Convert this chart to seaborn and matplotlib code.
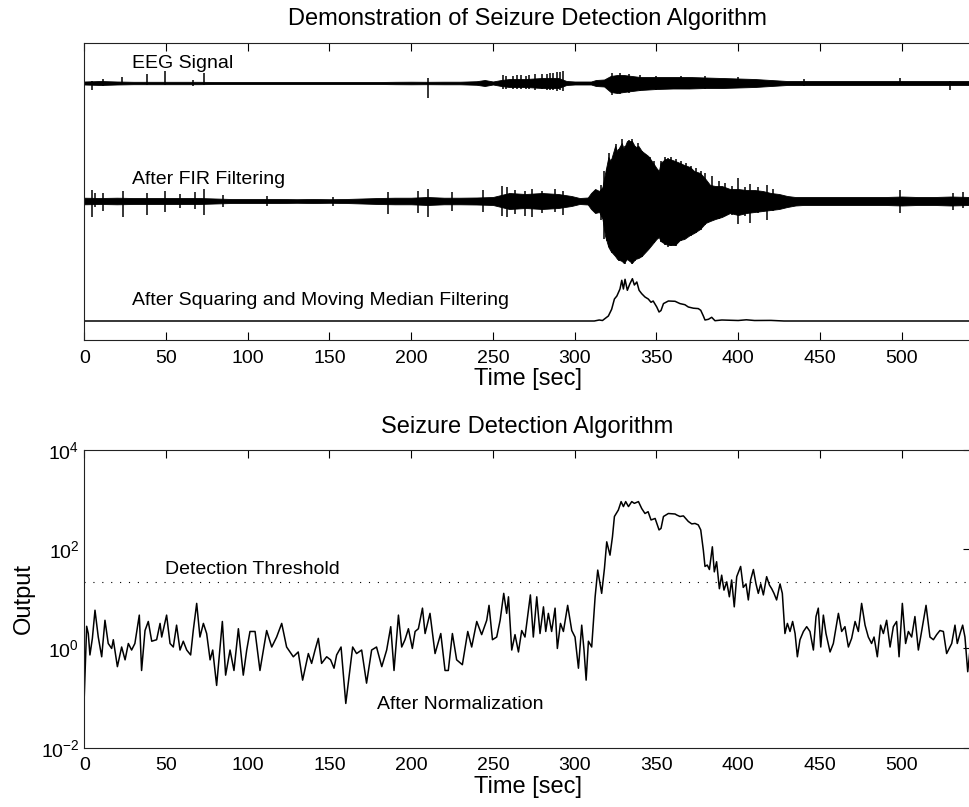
import numpy as np
import matplotlib
matplotlib.use("Agg")
import matplotlib.pyplot as plt
import matplotlib.ticker as mticker
import seaborn as sns

# --- data (time in sec) ---

# raw EEG: envelope half-heights above / below the trace (arbitrary units)
eeg_t = [0, 10, 20, 30, 40, 50, 60, 70, 80, 100, 120, 140, 160, 180, 190, 200, 210, 220, 230, 240,
         245, 250, 255, 260, 270, 280, 290, 295, 300, 310, 313, 318, 322, 326, 330, 335, 340, 350,
         360, 370, 380, 390, 400, 410, 420, 430, 440, 460, 480, 500, 520, 542]
eeg_up = [1.5, 2, 1.5, 1.2, 1.2, 1.2, 1.2, 1.2, 1.0, 1.0, 1.0, 1.0, 1.0, 1.0, 1.2, 1.3, 1.2, 1.3, 1.3, 1.8,
          3, 1.5, 3, 4, 4, 5, 5, 2, 1.5, 1.5, 3, 3.5, 7, 8, 8, 7, 6, 6,
          6, 6, 5.5, 5, 4.5, 4, 3, 2, 2, 2, 2, 2, 2, 2]
eeg_dn = [1.5, 2, 1.5, 1.2, 1.2, 1.2, 1.2, 1.2, 1.0, 1.0, 1.0, 1.0, 1.0, 1.0, 1.2, 1.3, 1.2, 1.3, 1.3, 1.8,
          3, 1.5, 3, 4, 4, 5, 5, 2, 1.5, 1.5, 3, 3.5, 9, 10, 9, 8, 7, 6,
          5.5, 5.5, 5, 5, 4.5, 4, 3, 2, 2, 2, 2, 2, 2, 2]
eeg_spk_t = [4.6, 11.3, 23, 38.2, 49.4, 66.7, 73.3, 210.5, 256, 258, 262, 265, 267, 270, 272, 276,
             280, 283, 285, 287, 289, 291, 293, 323, 328, 333, 340, 350, 365, 380, 400, 440, 499, 529.6]
eeg_spk_up = [2, 3.5, 6, 9, 12, 3, 10, 5, 8, 7, 7, 8, 8, 7, 8, 9,
              9, 9, 10, 10, 11, 11, 12, 10, 10, 9, 8, 7, 7, 7, 6, 3.5, 5, 2]
eeg_spk_dn = [7, 3.5, 1.5, 2, 2, 3, 2, 15, 6, 6, 6, 6, 6, 6, 6, 7,
              6, 7, 7, 7, 8, 7, 8, 12, 11, 10, 8, 7, 6, 6, 5, 3.5, 2, 7]

# after FIR filtering: envelope half-heights
fir_t = [0, 10, 20, 30, 40, 50, 60, 70, 80, 90, 100, 110, 120, 130, 140, 150, 160, 170, 180, 190,
         200, 210, 220, 230, 240, 250, 255, 260, 270, 280, 290, 298, 303, 308, 310, 312.5, 315, 317,
         318.6, 320.6, 322, 324.7, 326, 328.8, 330, 332, 335, 337, 339, 341, 345, 348, 350, 351.5,
         352.5, 355.3, 358, 361.4, 364.4, 367, 370.5, 373, 376.7, 380, 382.8, 386, 390, 395, 400,
         405, 410, 415, 420, 425, 430, 435, 440, 450, 460, 470, 480, 490, 500, 510, 520, 530, 542]
fir_up = [3.3, 3, 3.3, 3, 3, 3, 3, 3, 2.5, 2, 2, 2, 2, 1.8, 2, 1.8, 2, 2.5, 3, 3.3,
          3.3, 4, 3.3, 3.3, 3.5, 4, 6, 8, 7, 8, 7, 5, 3, 3.5, 8, 12, 10, 14,
          28, 44, 40, 55, 50, 58, 52, 60, 60, 54, 55, 50, 45, 38, 33, 30,
          38, 42, 42, 40, 38, 36, 34, 30, 28, 22, 16, 15, 15, 12, 12,
          11, 11, 10, 8, 7, 5, 4, 4, 4, 4, 4, 4, 4, 4.5, 4, 4, 4.5, 4]
fir_dn = [3.3, 3, 3.3, 3, 3, 3, 3, 3, 2.5, 2, 2, 2, 2, 1.8, 2, 1.8, 2, 2.5, 3, 3.3,
          3.3, 4, 3.3, 3.3, 3.5, 4, 6, 8, 7, 8, 7, 5, 3, 3.5, 8, 12, 11, 18,
          35, 46, 50, 55, 58, 60, 62, 58, 62, 58, 57, 55, 48, 42, 38, 36,
          40, 43, 44, 44, 39, 38, 34, 32, 28, 22, 20, 18, 16, 12, 14,
          12, 11, 10, 9, 8, 6, 4.5, 4, 4, 4, 4, 4, 4, 4.5, 4, 4, 4.5, 4]
fir_spk_t = [4.6, 6.6, 11.7, 23.5, 38.2, 49.4, 58.6, 67.8, 73.3, 85, 111.6, 152.4, 186, 204.4,
             210.5, 224.8, 244.2, 255.4, 258.4, 263.5, 269.6, 273.7, 279.8, 288, 293.1,
             316, 318, 319.5, 321, 323, 325, 327, 329, 331, 333, 335, 337, 339, 341, 343,
             346, 348.5, 353, 355, 357, 359, 362, 365, 368, 371, 374, 377, 380, 384, 388,
             392, 396, 400.1, 404, 407.2, 412, 417.4, 421, 499, 531.6, 537.7]
fir_spk_up = [10.7, 8, 8, 10, 8, 10, 7, 9, 12, 6, 5, 4, 9, 10,
              12, 9, 11, 15, 14, 11, 10, 12, 10, 12, 10,
              16, 30, 32, 48, 42, 57, 52, 62, 55, 61, 62, 55, 58, 50, 47,
              44, 40, 40, 44, 43, 44, 42, 40, 38, 35, 33, 30, 28, 25, 20,
              18, 15, 23, 14, 17, 14, 16, 12, 11, 8, 9]
fir_spk_dn = [16, 6, 10, 16, 14, 11, 7, 8, 14, 6, 5, 5, 13, 12,
              16, 10, 11, 15, 16, 13, 15, 16, 12, 11, 14,
              19, 38, 40, 46, 52, 55, 60, 58, 63, 57, 63, 60, 55, 56, 50,
              45, 42, 41, 44, 46, 45, 45, 40, 36, 35, 32, 29, 24, 18, 18,
              15, 14, 23, 15, 22, 12, 19, 10, 12, 9, 7]

# after squaring and moving median filtering (height above its baseline)
med_t = [0, 312, 315, 317, 320.6, 322.6, 324.3, 325.8, 327.7, 328.8, 329.8, 330.8, 332.2, 333.7,
         335.3, 336.5, 338, 339.4, 341, 343, 345, 346.7, 348, 350.2, 351.6, 352.8, 354.3, 357.3,
         361.4, 364.4, 367.4, 369.5, 372.6, 375.6, 377.1, 378.7, 379.7, 381.8, 383.8, 385.8, 390,
         400, 405, 410, 420, 428, 542]
med_h = [0, 0, 1, 0.5, 5, 11.7, 22, 25, 32, 40.7, 32, 41.7, 30.7, 37,
         42.3, 36, 39, 30.7, 27.3, 24, 22, 18.7, 20, 14, 9, 10.5, 17.4, 20,
         19.7, 17.4, 16.3, 14, 12.8, 12.4, 10.7, 5, 1, 1.7, 3.7, 0.3, 1,
         0.5, 1.2, 0.5, 0.6, 0, 0]

# normalized detector output
out_t = [0, 1.5, 2.5, 3.5, 5.0, 6.6, 8.6, 10.7, 12.7, 14.7, 16.8, 17.8, 20.3, 22.9, 25.0, 27.0,
         29.0, 31.0, 33.7, 35.1, 37.2, 39.2, 41.3, 44.3, 46.4, 47.4, 50.4, 52.5, 54.5, 56.5, 58.6,
         60.6, 62.7, 65.1, 66.7, 68.8, 70.8, 72.9, 74.9, 77.0, 78.6, 81.0, 84.5, 86.5, 89.2, 91.6,
         94.3, 97.3, 99.4, 101.4, 104.5, 107.5, 111.6, 114.7, 117.7, 120.8, 123.8, 127.9, 130.9,
         133.6, 137.1, 139.1, 141.2, 143.2, 145.2, 148.3, 150.7, 152.8, 154.4, 157.1, 160.0, 161.5,
         164.2, 166.6, 169.7, 172.7, 175.8, 178.8,
         182.0, 185.0, 187.5, 189.5, 192.2, 194.2, 196.2, 198.3, 200.7, 202.4, 204.4, 206.9, 208.5,
         211.5, 214.6, 218.1, 220.7, 222.7, 225.2, 227.8, 231.3, 234.6, 237.0, 240.1, 243.1, 246.2,
         247.6, 249.7, 252.3, 254.4, 256.6, 258.4, 259.5, 261.5, 263.5, 265.6, 267.6, 269.6, 272.9,
         274.7, 276.8, 278.8, 280.9, 282.3, 283.9, 285.9, 288.0, 289.4, 291.3, 293.1, 295.7, 298.2,
         300.2, 302.3, 304.3, 305.7, 307.0, 308.4, 310.4, 312.5, 314.1, 316.5, 318.2, 319.6, 321.6,
         323.1, 324.3, 326.7, 328.4, 329.8, 331.2, 332.9, 334.9, 336.5, 339.0, 341.0, 343.0, 344.9,
         346.7, 349.2, 351.6, 352.8, 354.3, 357.3, 361.4,
         362.4, 364.4, 366.5, 369.5, 371.6, 373.6, 375.6, 377.1, 378.7, 379.7, 381.1, 382.4, 384.2,
         385.4, 386.8, 388.5, 389.9, 391.3, 393.0, 394.6, 396.0, 397.6, 399.1, 401.5, 403.1, 404.8,
         406.2, 407.6, 409.3, 410.9, 412.3, 413.8, 415.4, 417.4, 419.1, 420.5, 421.9, 423.5, 425.6,
         427.0, 428.6, 430.1, 431.7, 433.3, 434.8, 436.2, 437.8, 439.9, 441.9, 443.9, 446.0, 447.6,
         449.0, 450.5, 452.1, 453.7, 456.2, 458.2, 461.3, 463.3, 465.3, 467.4, 469.4, 471.5, 473.5,
         475.5, 477.6, 479.6, 481.6, 483.1, 485.1, 487.1, 488.8, 490.8, 492.9, 494.9, 496.9, 498.4,
         500.4, 502.4, 504.1, 506.1, 508.1, 510.2, 511.6, 514.9, 517.3, 519.4, 521.4, 523.4, 525.5,
         527.5, 530.6, 532.6, 534.0, 535.7, 537.3, 538.7, 540.4, 541.8]
out_v = [0.10, 2.8, 2.0, 0.74, 1.6, 5.9, 1.7, 0.68, 3.7, 1.26, 1.0, 1.5, 0.43, 1.07, 0.59, 1.26,
         0.93, 1.26, 4.7, 0.36, 2.3, 3.5, 1.4, 1.5, 3.2, 1.7, 4.7, 1.26, 1.07, 2.95, 0.93,
         1.4, 0.93, 0.74, 2.3, 8.1, 1.7, 3.2, 2.0, 0.59, 0.93, 0.18, 3.5, 0.29, 0.93, 0.36,
         2.5, 0.29, 0.93, 2.2, 2.2, 0.36, 2.3, 1.07, 1.7, 3.2, 1.07, 0.68, 0.85,
         0.23, 0.79, 0.50, 0.93, 1.6, 0.50, 0.68, 0.59, 0.40, 0.74, 1.07, 0.078, 0.20,
         1.07, 0.79, 0.93, 0.20, 0.93, 1.07,
         0.43, 0.93, 2.75, 0.36, 4.7, 1.07, 1.5, 2.5, 1.0, 2.2, 2.5, 6.5, 2.0,
         5.1, 0.79, 2.0, 0.36, 0.36, 2.0, 0.59, 0.47, 2.2, 1.07, 3.5, 1.9, 3.7,
         7.4, 1.5, 1.7, 3.7, 12.9, 5.1, 11.0, 0.93, 1.9, 0.85, 2.3, 1.7, 12.0,
         1.7, 11.0, 2.0, 6.9, 2.2, 5.1, 2.2, 6.5, 1.0, 3.2, 2.2, 7.4, 2.3,
         1.7, 0.40, 2.95, 0.93, 0.23, 1.4, 1.07, 11.0, 38, 12.9, 41, 141, 76,
         178, 457, 617, 912, 724, 912, 724, 912, 841, 912, 661, 525, 571,
         389, 417, 245, 263, 457, 525, 513,
         490, 457, 470, 363, 324, 331, 309, 245, 95, 45, 48, 39, 112,
         35, 56, 16, 30, 15, 22, 11, 24, 6.9, 28, 45, 17, 20,
         9.5, 24, 39, 20, 12.9, 20, 12, 28, 19, 16, 12.9, 9.5, 20,
         12.9, 2.0, 3.2, 2.2, 3.5, 2.0, 0.68, 1.5, 2.2, 2.75, 2.2, 0.93, 4.4,
         6.5, 1.07, 4.7, 2.0, 0.85, 1.26, 5.1, 2.2, 2.75, 1.07, 1.6, 3.5, 2.2,
         8.1, 2.95, 1.7, 1.26, 1.7, 0.68, 2.95, 2.0, 3.7, 1.07, 2.75, 3.5, 0.68,
         8.1, 1.26, 2.2, 1.7, 4.4, 0.93, 1.7, 7.4, 1.7, 1.5, 1.9, 2.3, 2.2,
         0.79, 1.26, 2.95, 1.26, 2.0, 2.95, 1.7, 0.34, 0.93]

threshold = 22

# --- layout constants ---
T_MAX = 542.4
EEG_BASE, FIR_BASE, MED_BASE = 257, 139, 19

sns.set_theme(style="white")
plt.rcParams['font.family'] = ['Liberation Sans', 'DejaVu Sans']
plt.rcParams['mathtext.default'] = 'regular'
plt.rcParams['axes.linewidth'] = 0.8
plt.rcParams['axes.edgecolor'] = '#222222'
plt.rcParams['text.color'] = 'black'
plt.rcParams['axes.labelcolor'] = 'black'
plt.rcParams['xtick.color'] = 'black'
plt.rcParams['ytick.color'] = 'black'

fig = plt.figure(figsize=(9.70, 8.07), dpi=100)
ax1 = fig.add_axes([84.2 / 970, 1 - 340 / 807, 886.8 / 970, 296.7 / 807])
ax2 = fig.add_axes([84.2 / 970, 1 - 747.7 / 807, 886.8 / 970, 297.7 / 807])

# top panel: the three stacked traces
for t, up, dn, base in [(eeg_t, eeg_up, eeg_dn, EEG_BASE), (fir_t, fir_up, fir_dn, FIR_BASE)]:
    t = np.asarray(t)
    ax1.fill_between(t, base - np.asarray(dn), base + np.asarray(up), color='black', lw=0.6)
for t, up, dn, base in [(eeg_spk_t, eeg_spk_up, eeg_spk_dn, EEG_BASE),
                        (fir_spk_t, fir_spk_up, fir_spk_dn, FIR_BASE)]:
    ax1.vlines(t, base - np.asarray(dn), base + np.asarray(up), color='black', lw=1.1)

sns.lineplot(x=med_t, y=MED_BASE + np.asarray(med_h), ax=ax1, color='black', lw=1.1,
             estimator=None, sort=False)

ax1.text(29.3, 276.7, 'EEG Signal', fontsize=14, va='center', ha='left')
ax1.text(29.3, 161, 'After FIR Filtering', fontsize=14, va='center', ha='left')
ax1.text(29.3, 39, 'After Squaring and Moving Median Filtering', fontsize=14, va='center', ha='left')

ax1.set_xlim(0, T_MAX)
ax1.set_ylim(0, 296.7)
ax1.set_yticks([])
ax1.set_xticks(range(0, 501, 50))
ax1.tick_params(axis='x', direction='in', length=6, width=0.8, top=True, bottom=True,
                labelsize=14, pad=7)
ax1.set_xlabel('Time [sec]', fontsize=17, labelpad=1)

# bottom panel: normalized output on a log axis
sns.lineplot(x=out_t, y=out_v, ax=ax2, color='black', lw=1.1, estimator=None, sort=False)
ax2.axhline(threshold, color='black', lw=0.8, linestyle=(0, (1, 7)))
ax2.set_yscale('log')
ax2.set_ylim(1e-2, 1e4)
ax2.set_xlim(0, T_MAX)
ax2.yaxis.set_major_locator(mticker.FixedLocator([1e-2, 1e0, 1e2, 1e4]))
ax2.yaxis.set_minor_locator(mticker.NullLocator())
ax2.set_xticks(range(0, 501, 50))
ax2.tick_params(axis='both', direction='in', length=6, width=0.8, top=True, right=True,
                labelsize=14)
ax2.tick_params(axis='x', pad=7)
ax2.set_xlabel('Time [sec]', fontsize=17, labelpad=1)
ax2.set_ylabel('Output', fontsize=17, labelpad=4)

ax2.text(49.3, 26, 'Detection Threshold', fontsize=14, va='bottom', ha='left')
ax2.text(178.8, 0.075, 'After Normalization', fontsize=14, va='center', ha='left')

for ax in (ax1, ax2):
    for s in ax.spines.values():
        s.set_visible(True)
        s.set_color('#222222')

fig.text(527.6 / 970, 1 - 19 / 807, 'Demonstration of Seizure Detection Algorithm',
         fontsize=17, ha='center', va='center')
fig.text(527.6 / 970, 1 - 427 / 807, 'Seizure Detection Algorithm',
         fontsize=17, ha='center', va='center')

fig.savefig('out.png', dpi=100, facecolor='white')
